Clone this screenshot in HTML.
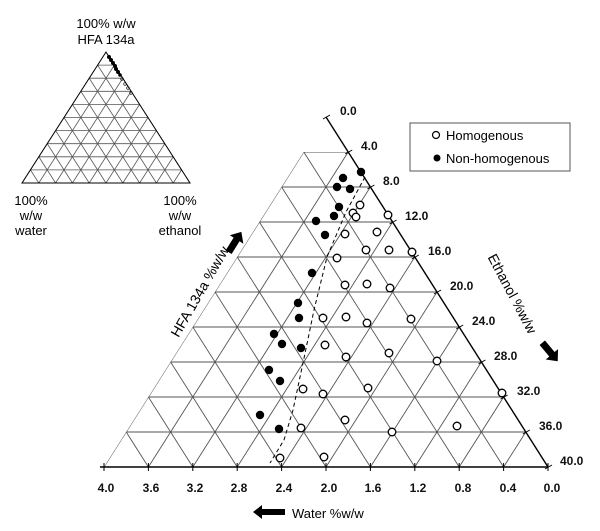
<!DOCTYPE html>
<html><head><meta charset="utf-8"><style>
body{margin:0;background:#fff}
svg{display:block;font-family:"Liberation Sans",Arial,sans-serif}
</style></head><body>
<svg width="600" height="531" viewBox="0 0 600 531" xmlns="http://www.w3.org/2000/svg">
<defs>
<clipPath id="c"><polygon points="303.8,152 348.2,152 548,467 104,467"/></clipPath>
<clipPath id="c2"><polygon points="106,52 190,183 22,183"/></clipPath>
</defs>
<g clip-path="url(#c)" stroke="#555" stroke-width="0.9" fill="none" id="grid"></g>
<g clip-path="url(#c2)" stroke="#555" stroke-width="0.8" fill="none" id="grid2"></g>
<polygon points="106,52 190,183 22,183" fill="none" stroke="#000" stroke-width="1"/>
<g fill="#000"><circle cx="109" cy="57" r="2"/><circle cx="111" cy="60" r="2"/><circle cx="113" cy="63" r="2"/><circle cx="115" cy="66" r="2"/><circle cx="116" cy="69" r="2"/><circle cx="118" cy="72" r="2"/><circle cx="120" cy="75" r="1.8"/></g>
<g fill="none" stroke="#000" stroke-width="0.6"><circle cx="122" cy="79" r="1.3"/><circle cx="125" cy="84" r="1.3"/><circle cx="128" cy="88" r="1.3"/><circle cx="131" cy="93" r="1.3"/></g>
<g font-size="13" fill="#000" text-anchor="middle">
<text x="106" y="28">100% w/w</text><text x="106" y="44">HFA 134a</text>
<text x="31" y="205">100%</text><text x="31" y="220">w/w</text><text x="31" y="235">water</text>
<text x="180" y="205">100%</text><text x="180" y="220">w/w</text><text x="180" y="235">ethanol</text>
</g>
<line x1="326" y1="117" x2="548" y2="467" stroke="#000" stroke-width="1.4"/>
<line x1="100" y1="467" x2="548" y2="467" stroke="#000" stroke-width="1.4"/>
<g id="ticks" stroke="#000" stroke-width="1"></g>
<polyline points="365,177 346,212 327,257 314,310 303,363 293,410 284,440 270,463" fill="none" stroke="#000" stroke-width="1" stroke-dasharray="4,3"/>
<g id="pts"></g>
<g font-size="12" font-weight="bold" fill="#111">
<text x="340" y="115">0.0</text><text x="361" y="150">4.0</text><text x="383" y="185">8.0</text><text x="405" y="220">12.0</text><text x="428" y="255">16.0</text><text x="450" y="290">20.0</text><text x="472" y="325">24.0</text><text x="494" y="360">28.0</text><text x="517" y="395">32.0</text><text x="539" y="430">36.0</text><text x="560" y="465">40.0</text>
</g>
<g font-size="12" font-weight="bold" fill="#111" text-anchor="middle">
<text x="106" y="492">4.0</text><text x="151" y="492">3.6</text><text x="195" y="492">3.2</text><text x="239" y="492">2.8</text><text x="284" y="492">2.4</text><text x="329" y="492">2.0</text><text x="373" y="492">1.6</text><text x="418" y="492">1.2</text><text x="463" y="492">0.8</text><text x="508" y="492">0.4</text><text x="552" y="492">0.0</text>
</g>
<rect x="410" y="123" width="160" height="48" fill="#fff" stroke="#555" stroke-width="1"/>
<circle cx="436" cy="135" r="3.5" fill="#fff" stroke="#000" stroke-width="1.2"/>
<circle cx="437" cy="158" r="3.5" fill="#000"/>
<g font-size="13" fill="#000"><text x="446" y="140">Homogenous</text><text x="446" y="163">Non-homogenous</text></g>
<text x="0" y="0" font-size="14" transform="translate(204,294) rotate(-60)" text-anchor="middle">HFA 134a %w/w</text>
<text x="0" y="0" font-size="14" transform="translate(508,296) rotate(62)" text-anchor="middle">Ethanol %w/w</text>
<text x="292" y="518" font-size="13">Water %w/w</text>
<polygon points="253,512 262,505 262,509 285,509 285,515 262,515 262,519" fill="#000"/>
<g transform="translate(235,242) rotate(-58)"><polygon points="12,0 3,-8 3,-3.5 -12,-3.5 -12,3.5 3,3.5 3,8" fill="#000"/></g>
<g transform="translate(550,352) rotate(50)"><polygon points="12,0 3,-8 3,-3.5 -12,-3.5 -12,3.5 3,3.5 3,8" fill="#000"/></g>
<script>
var ns="http://www.w3.org/2000/svg";
function L(g,x1,y1,x2,y2){var l=document.createElementNS(ns,"line");l.setAttribute("x1",x1);l.setAttribute("y1",y1);l.setAttribute("x2",x2);l.setAttribute("y2",y2);g.appendChild(l);}
var g=document.getElementById("grid");
var s=44.4,hx=22.2;
for(var k=0;k<9;k++){var y=152+35*k;L(g,90,y,600,y);}
for(var m=-2;m<14;m++){
 var xb=548-s*m;
 var d=hx*(467-117)/35;
 L(g,xb,467,xb-d,117);L(g,xb,467,xb+d,117);
}
var g2=document.getElementById("grid2");
var H=131,W=168;
for(var i=1;i<10;i++){var y=52+H*i/10;L(g2,0,y,220,y);}
for(var m=-10;m<21;m++){var xb=22+W*m/10;L(g2,xb,183,xb-84,52);L(g2,xb,183,xb+84,52);}
var t=document.getElementById("ticks");
for(var m=0;m<=10;m++){var x=548-s*m;L(t,x,463,x,471);}
for(var k=-1;k<10;k++){var y=152+35*k,x=548-hx*(467-y)/35;L(t,x-3,y+2,x+4,y-2);}
var P=document.getElementById("pts");
var f=[[361,172],[343,178],[337,187],[350,189],[339,207],[334,216],[316,221],[325,235],[312,273],[298,303],[299,318],[274,334],[282,344],[301,348],[269,370],[280,381],[260,415],[279,429]];
var o=[[360,205],[353,213],[356,217],[388,215],[345,234],[377,232],[366,250],[389,250],[412,252],[337,258],[345,285],[367,284],[390,288],[323,318],[346,317],[367,323],[411,319],[325,345],[346,357],[389,353],[437,361],[303,389],[323,394],[368,388],[502,393],[345,420],[301,428],[392,432],[457,426],[280,458],[324,457]];
f.forEach(function(p){var c=document.createElementNS(ns,"circle");c.setAttribute("cx",p[0]);c.setAttribute("cy",p[1]);c.setAttribute("r",4.2);c.setAttribute("fill","#000");P.appendChild(c);});
o.forEach(function(p){var c=document.createElementNS(ns,"circle");c.setAttribute("cx",p[0]);c.setAttribute("cy",p[1]);c.setAttribute("r",3.8);c.setAttribute("fill","#fff");c.setAttribute("stroke","#000");c.setAttribute("stroke-width","1.3");P.appendChild(c);});
</script>
</svg>
</body></html>
